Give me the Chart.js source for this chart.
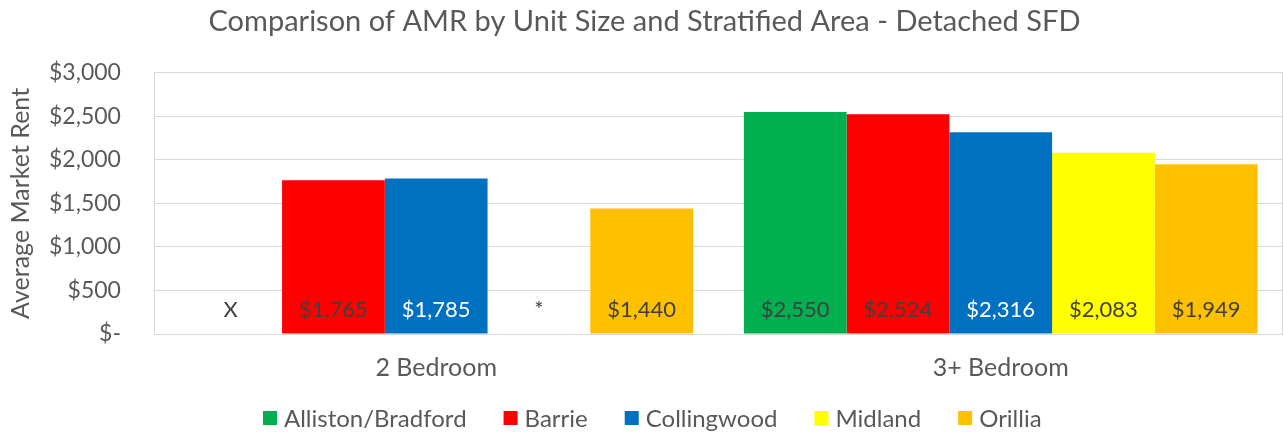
<!DOCTYPE html>
<html>
<head>
<meta charset="utf-8">
<script src="https://cdn.jsdelivr.net/npm/chart.js@4/dist/chart.umd.min.js"></script>
<style>
  html, body { margin: 0; padding: 0; background: #fff; }
  #wrap { width: 1284px; height: 437px; }
</style>
</head>
<body>
<div id="wrap"><canvas id="amrChart" width="1284" height="437"></canvas></div>
<script>
// chart data
const categories = ['2 Bedroom', '3+ Bedroom'];
const areas = ['Alliston/Bradford', 'Barrie', 'Collingwood', 'Midland', 'Orillia'];
const allistonRent = [null, 2550];
const barrieRent = [1765, 2524];
const collingwoodRent = [1785, 2316];
const midlandRent = [null, 2083];
const orilliaRent = [1440, 1949];
// text shown where a value is suppressed
const allistonNotes = ['X', null];
const midlandNotes = ['*', null];
const yTicks = [0, 500, 1000, 1500, 2000, 2500, 3000];

const areaColors = ['#00B050', '#FF0000', '#0070C0', '#FFFF00', '#FFC000'];
const labelColors = ['#404040', '#404040', '#FFFFFF', '#404040', '#404040'];
const seriesValues = [allistonRent, barrieRent, collingwoodRent, midlandRent, orilliaRent];
const seriesNotes = [allistonNotes, [], [], midlandNotes, []];

const FONT = 'Lato, "Open Sans", sans-serif';

function money(v) {
    if (v === 0) return '$-';
    return '$' + v.toLocaleString('en-US');
}

// draw the value labels near the bottom of each bar
const barLabels = {
    id: 'barLabels',
    afterDatasetsDraw(chart) {
        const ctx = chart.ctx;
        const yScale = chart.scales.y;
        const xScale = chart.scales.x;
        const base = yScale.getPixelForValue(0);
        ctx.save();
        ctx.font = '22px ' + FONT;
        ctx.textAlign = 'center';
        ctx.textBaseline = 'middle';
        chart.data.datasets.forEach((ds, di) => {
            const meta = chart.getDatasetMeta(di);
            meta.data.forEach((bar, i) => {
                const v = ds.data[i];
                let text = v != null ? money(v) : seriesNotes[di][i];
                if (!text) return;
                let x = bar.x;
                if (!isFinite(x)) {
                    // fall back on the index scale for empty bars
                    const cw = xScale.width / categories.length * 0.91;
                    x = xScale.getPixelForValue(i) - cw / 2 + cw / 5 * (di + 0.5);
                }
                ctx.fillStyle = v != null ? labelColors[di] : '#404040';
                ctx.fillText(text, x, base - 24);
            });
        });
        ctx.restore();
    }
};

// plot area frame (left and right edges)
const plotFrame = {
    id: 'plotFrame',
    beforeDatasetsDraw(chart) {
        const a = chart.chartArea;
        const ctx = chart.ctx;
        ctx.save();
        ctx.strokeStyle = '#D9D9D9';
        ctx.lineWidth = 1;
        ctx.beginPath();
        ctx.moveTo(Math.round(a.left) + 0.5, a.top);
        ctx.lineTo(Math.round(a.left) + 0.5, a.bottom);
        ctx.moveTo(Math.round(a.right) - 0.5, a.top);
        ctx.lineTo(Math.round(a.right) - 0.5, a.bottom);
        ctx.stroke();
        ctx.restore();
    }
};

// legend row drawn by hand so the spacing matches Excel
const bottomLegend = {
    id: 'bottomLegend',
    afterDraw(chart) {
        const ctx = chart.ctx;
        const box = 14, gap = 7, itemGap = 37, y = 418;
        ctx.save();
        ctx.font = '24px ' + FONT;
        ctx.textBaseline = 'middle';
        const widths = chart.data.datasets.map(ds => ctx.measureText(ds.label).width);
        const total = widths.reduce((s, w) => s + box + gap + w, 0) + itemGap * (widths.length - 1);
        let x = Math.round(chart.width / 2 + 10 - total / 2);
        chart.data.datasets.forEach((ds, i) => {
            ctx.fillStyle = ds.backgroundColor;
            ctx.fillRect(x, y - box / 2, box, box);
            ctx.fillStyle = '#595959';
            ctx.fillText(ds.label, x + box + gap, y + 1);
            x += box + gap + widths[i] + itemGap;
        });
        ctx.restore();
    }
};

new Chart(document.getElementById('amrChart').getContext('2d'), {
    type: 'bar',
    data: {
        labels: categories,
        datasets: areas.map((name, i) => ({
            label: name,
            data: seriesValues[i],
            backgroundColor: areaColors[i],
            borderWidth: 0,
            categoryPercentage: 0.91,
            barPercentage: 1.0
        }))
    },
    options: {
        responsive: false,
        animation: false,
        layout: { padding: { left: 6, right: 1, top: 4, bottom: 35 } },
        plugins: {
            title: {
                display: true,
                text: 'Comparison of AMR by Unit Size and Stratified Area - Detached SFD',
                color: '#595959',
                font: { family: FONT, size: 29, weight: 'normal' },
                padding: { top: 0, bottom: 34 }
            },
            legend: { display: false },
            tooltip: { enabled: false }
        },
        scales: {
            x: {
                grid: { display: false, drawTicks: false },
                border: { display: false },
                ticks: {
                    color: '#595959',
                    font: { family: FONT, size: 25 },
                    padding: 19
                }
            },
            y: {
                min: 0,
                max: 3000,
                afterBuildTicks(scale) {
                    scale.ticks = yTicks.map(v => ({ value: v }));
                },
                afterFit(scale) { scale.width -= 22; },
                grid: { color: '#D9D9D9', drawTicks: false },
                border: { display: false },
                ticks: {
                    color: '#595959',
                    font: { family: FONT, size: 23 },
                    padding: 33,
                    callback: v => money(v)
                },
                title: {
                    display: true,
                    text: 'Average Market Rent',
                    color: '#595959',
                    font: { family: FONT, size: 25 },
                    padding: { top: 0, bottom: 2 }
                }
            }
        }
    },
    plugins: [plotFrame, barLabels, bottomLegend]
});
</script>
</body>
</html>
